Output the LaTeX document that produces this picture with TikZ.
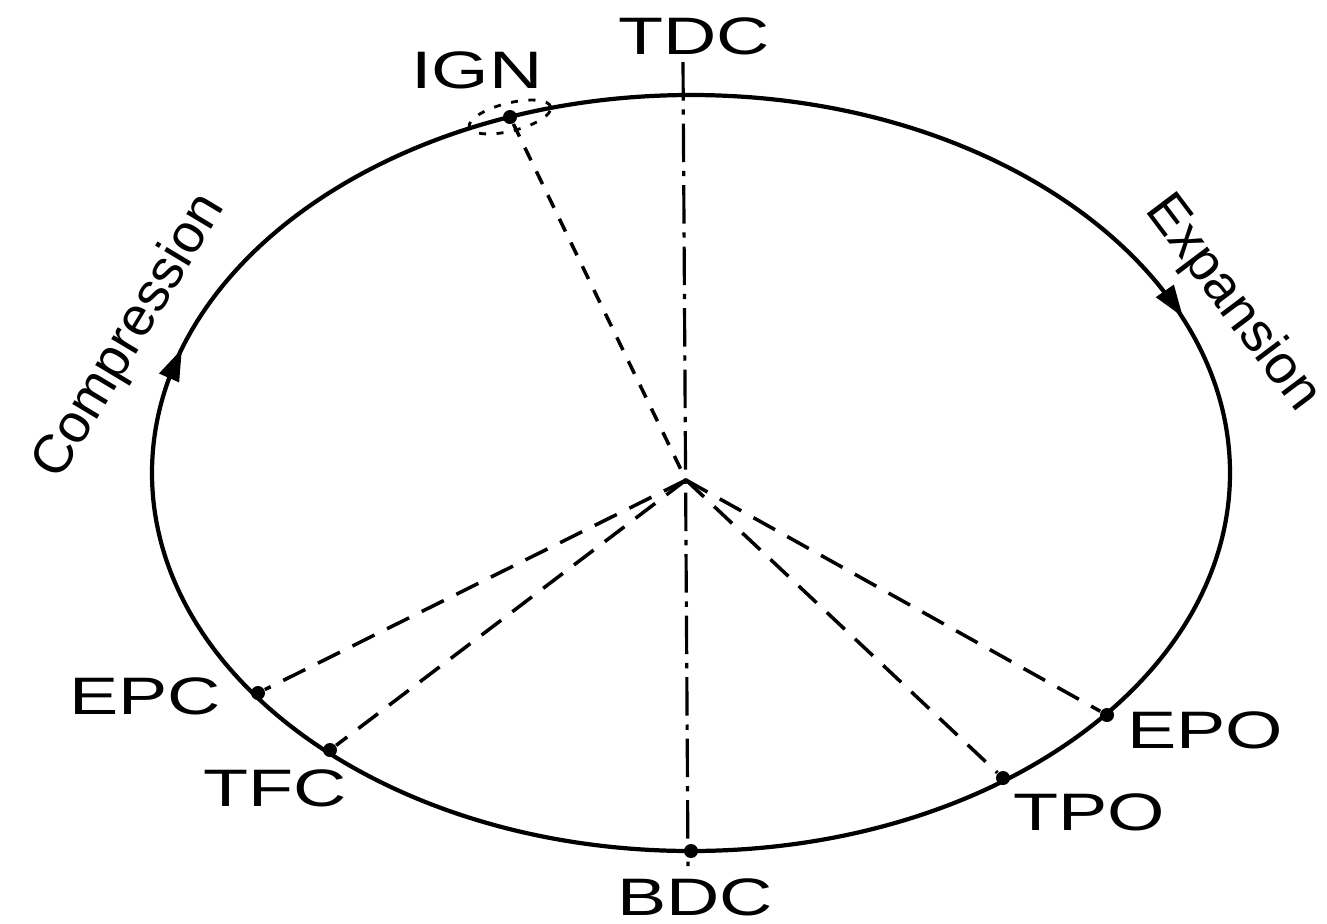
\documentclass[tikz,border=0pt]{standalone}
\usepackage{fontspec}
\setmainfont{Liberation Sans}
\usetikzlibrary{arrows.meta}
\begin{document}
\begin{tikzpicture}[
  lbl/.style={font=\fontsize{15}{18}\selectfont, inner sep=0pt, xscale=1.4},
  rlbl/.style={font=\fontsize{15.5}{18}\selectfont, inner sep=0pt},
  pt/.style={circle, fill=black, inner sep=0pt, minimum size=0.14cm},
  cycle/.style={line width=1.2pt},
  ray/.style={line width=1pt, dash pattern=on 7pt off 4pt},
  igray/.style={line width=1pt, dash pattern=on 4pt off 3.5pt},
  axis/.style={line width=0.9pt, dash pattern=on 11pt off 2.5pt on 1.5pt off 2.5pt},
  tip/.style={-{Triangle[length=9pt,width=6pt]}, line width=1pt}
]
\useasboundingbox (0,0) rectangle (13.27,-9.23);
% centre of the cycle
\coordinate (c) at (6.91,-4.73);
\coordinate (hub) at (6.86,-4.80);
% the cycle
\draw[cycle] (c) ellipse [x radius=5.39, y radius=3.78];
% points on the cycle
\node[pt] (ign) at (5.10,-1.17) {};
\node[pt] (epc) at (2.58,-6.93) {};
\node[pt] (tfc) at (3.30,-7.50) {};
\node[pt] (epo) at (11.07,-7.15) {};
\node[pt] (tpo) at (10.03,-7.78) {};
\node[pt] (bdc) at (6.91,-8.51) {};
% spark around IGN
\draw[line width=0.8pt, dash pattern=on 2pt off 3pt, rotate around={14:(ign)}] (ign) ellipse [x radius=0.42, y radius=0.14];
% axis TDC-BDC
\coordinate (axtop) at (6.83,-0.62);
\coordinate (axbot) at (6.88,-8.66);
\draw[axis] (axtop) -- (axbot);
% rays
\draw[igray] (ign) -- (hub);
\draw[ray] (hub) -- (epc);
\draw[ray] (hub) -- (tfc);
\draw[ray] (hub) -- (epo);
\draw[ray] (hub) -- (tpo);
% direction arrowheads on the cycle
\coordinate (ea) at (11.76,-3.07);
\coordinate (ca) at (1.77,-3.60);
\draw[tip] (ea) -- ++(-55.2:0.12);
\draw[tip] (ca) -- ++(66.1:0.12);
% labels
\node[lbl] (tdc) at (6.94,-0.36) {TDC};
\node[lbl] (ignl) at (4.77,-0.705) {IGN};
\node[lbl] (epcl) at (1.45,-6.96) {EPC};
\node[lbl] (tfcl) at (2.75,-7.88) {TFC};
\node[lbl] (epol) at (12.05,-7.30) {EPO};
\node[lbl] (tpol) at (10.89,-8.12) {TPO};
\node[lbl] (bdcl) at (6.95,-8.97) {BDC};
\node[rlbl, rotate=59] (comp) at (1.30,-3.37) {Compression};
\node[rlbl, rotate=-53] (exp) at (12.32,-3.04) {Expansion};
\end{tikzpicture}
\end{document}
